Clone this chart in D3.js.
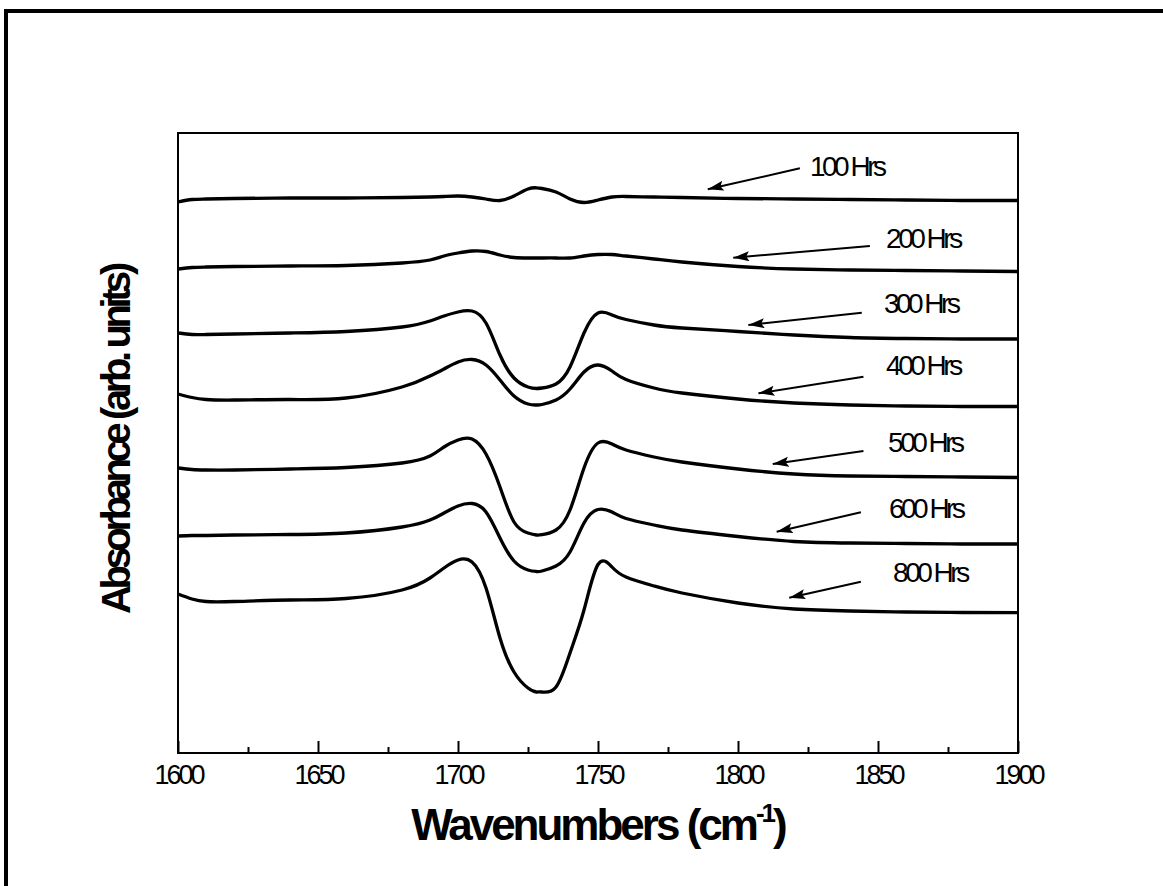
<!DOCTYPE html>
<html>
<head>
<meta charset="utf-8">
<script src="https://cdn.jsdelivr.net/npm/d3@7"></script>
<style>
  body { margin: 0; background: #fff; }
  svg { display: block; }
  text { font-family: "Liberation Sans", Arial, sans-serif; fill: #000; }
</style>
</head>
<body>
<svg id="chart" width="1163" height="886"></svg>
<script>
// FTIR carbonyl region, absorbance traces after increasing exposure time (vertically offset)
const wavenumbers = [1600,1605,1610,1620,1640,1660,1680,1690,1695,1700,1705,1710,1715,1720,1725,1728,1730,1735,1740,1745,1750,1755,1760,1770,1780,1800,1820,1840,1860,1880,1900];

const hrs100 = [5.51,5.535,5.54,5.545,5.55,5.55,5.555,5.56,5.565,5.57,5.56,5.54,5.525,5.57,5.64,5.652,5.645,5.61,5.54,5.505,5.53,5.56,5.565,5.56,5.555,5.545,5.54,5.535,5.53,5.525,5.525];
const hrs200 = [4.84,4.855,4.86,4.865,4.87,4.875,4.90,4.93,4.97,5.00,5.02,5.015,4.98,4.955,4.95,4.95,4.95,4.95,4.95,4.97,4.985,4.985,4.97,4.94,4.91,4.865,4.84,4.83,4.825,4.82,4.815];
const hrs300 = [4.20,4.185,4.185,4.19,4.20,4.215,4.26,4.32,4.37,4.41,4.42,4.30,3.98,3.75,3.66,3.645,3.65,3.69,3.86,4.20,4.40,4.38,4.335,4.28,4.25,4.215,4.18,4.155,4.145,4.14,4.14];
const hrs400 = [3.59,3.555,3.535,3.53,3.535,3.55,3.66,3.77,3.84,3.91,3.935,3.88,3.73,3.57,3.49,3.48,3.485,3.53,3.64,3.81,3.88,3.82,3.735,3.65,3.60,3.54,3.50,3.48,3.47,3.465,3.465];
const hrs500 = [2.85,2.835,2.83,2.83,2.84,2.855,2.90,2.97,3.06,3.13,3.14,2.99,2.66,2.31,2.20,2.18,2.183,2.23,2.43,2.85,3.10,3.09,3.03,2.96,2.91,2.84,2.79,2.77,2.765,2.76,2.755];
const hrs600 = [2.17,2.175,2.175,2.18,2.185,2.20,2.26,2.33,2.40,2.47,2.495,2.41,2.15,1.92,1.83,1.815,1.82,1.87,2.01,2.30,2.435,2.41,2.345,2.28,2.23,2.165,2.115,2.10,2.095,2.09,2.09];
const hrs800 = [1.59,1.54,1.515,1.515,1.53,1.545,1.63,1.75,1.85,1.93,1.91,1.65,1.15,0.81,0.65,0.61,0.61,0.66,1.00,1.43,1.885,1.86,1.76,1.67,1.60,1.50,1.44,1.42,1.41,1.405,1.403];

const seriesNames = ["100 Hrs","200 Hrs","300 Hrs","400 Hrs","500 Hrs","600 Hrs","800 Hrs"];
const seriesValues = [hrs100, hrs200, hrs300, hrs400, hrs500, hrs600, hrs800];

// annotation text anchors and arrows (data units)
const labelX    = [1825.7,1852.9,1852.1,1852.9,1853.6,1853.9,1855.4];
const labelY    = [5.77,5.05,4.40,3.78,3.01,2.35,1.71];
const arrowX0   = [1822.1,1847.1,1844.2,1844.8,1844.8,1843.9,1843.9];
const arrowY0   = [5.847,5.07,4.403,3.763,3.02,2.407,1.713];
const arrowX1   = [1789.2,1798.3,1803.7,1807.3,1812.4,1813.8,1818.3];
const arrowY1   = [5.637,4.953,4.28,3.597,2.89,2.213,1.553];

const majorTicks = [1600,1650,1700,1750,1800,1850,1900];
const minorTicks = [1625,1675,1725,1775,1825,1875];

const svg = d3.select("#chart");
const W = 1163, H = 886;
const plot = { left: 178, top: 133, right: 1018, bottom: 753 };

svg.append("rect").attr("width", W).attr("height", H).attr("fill", "#fff");

// page border
svg.append("line").attr("x1", 6).attr("y1", 9).attr("x2", 6).attr("y2", H)
  .attr("stroke", "#000").attr("stroke-width", 4);
svg.append("line").attr("x1", 4).attr("y1", 11).attr("x2", W).attr("y2", 11)
  .attr("stroke", "#000").attr("stroke-width", 4);

const x = d3.scaleLinear().domain([1600, 1900]).range([plot.left, plot.right]);
const y = d3.scaleLinear().domain([0, 6.2]).range([plot.bottom, plot.top]);

// minor ticks
svg.append("g")
  .attr("transform", `translate(0,${plot.bottom})`)
  .call(d3.axisBottom(x).tickValues(minorTicks).tickSizeInner(-6).tickSizeOuter(0).tickFormat(""))
  .call(g => g.select(".domain").remove())
  .call(g => g.selectAll("line").attr("stroke", "#000").attr("stroke-width", 2));

// major ticks and labels
svg.append("g")
  .attr("transform", `translate(0,${plot.bottom})`)
  .call(d3.axisBottom(x).tickValues(majorTicks).tickSizeInner(-12).tickSizeOuter(0).tickPadding(12).tickFormat(d3.format("d")))
  .call(g => g.select(".domain").remove())
  .call(g => g.selectAll("line").attr("stroke", "#000").attr("stroke-width", 2))
  .call(g => g.selectAll("text")
    .attr("font-family", '"Liberation Sans", Arial, sans-serif')
    .attr("font-size", 27).attr("letter-spacing", "-3px").attr("fill", "#000"));

// frame
svg.append("rect")
  .attr("x", plot.left).attr("y", plot.top)
  .attr("width", plot.right - plot.left).attr("height", plot.bottom - plot.top)
  .attr("fill", "none").attr("stroke", "#000").attr("stroke-width", 2);

// spectra
const line = d3.line()
  .x((d, i) => x(wavenumbers[i]))
  .y(d => y(d))
  .curve(d3.curveNatural);

svg.append("g").selectAll("path")
  .data(seriesValues)
  .join("path")
  .attr("d", d => line(d))
  .attr("fill", "none")
  .attr("stroke", "#000")
  .attr("stroke-width", 3.3)
  .attr("stroke-linejoin", "round");

// arrowheads
svg.append("defs").append("marker")
  .attr("id", "head")
  .attr("markerUnits", "userSpaceOnUse")
  .attr("markerWidth", 17).attr("markerHeight", 11)
  .attr("refX", 16).attr("refY", 5)
  .attr("orient", "auto")
  .append("path")
  .attr("d", "M0,0 L16,5 L0,10 L3,5 Z")
  .attr("fill", "#000");

const notes = svg.append("g");
seriesNames.forEach((name, i) => {
  notes.append("line")
    .attr("x1", x(arrowX0[i])).attr("y1", y(arrowY0[i]))
    .attr("x2", x(arrowX1[i])).attr("y2", y(arrowY1[i]))
    .attr("stroke", "#000").attr("stroke-width", 2)
    .attr("marker-end", "url(#head)");
  notes.append("text")
    .attr("x", x(labelX[i])).attr("y", y(labelY[i]))
    .attr("font-size", 28).attr("letter-spacing", "-3.5px")
    .text(name);
});

// axis titles
const xt = svg.append("text")
  .attr("x", (plot.left + plot.right) / 2).attr("y", 840)
  .attr("text-anchor", "middle")
  .attr("font-size", 44).attr("font-weight", "bold").attr("letter-spacing", "-3px");
xt.append("tspan").text("Wavenumbers (cm");
xt.append("tspan").attr("font-size", 26).attr("dy", -18).text("-1");
xt.append("tspan").attr("dy", 18).text(")");

svg.append("text")
  .attr("transform", "translate(130,440) rotate(-90)")
  .attr("text-anchor", "middle")
  .attr("font-size", 40).attr("font-weight", "bold").attr("letter-spacing", "-4.4px")
  .text("Absorbance (arb. units)");
</script>
</body>
</html>
